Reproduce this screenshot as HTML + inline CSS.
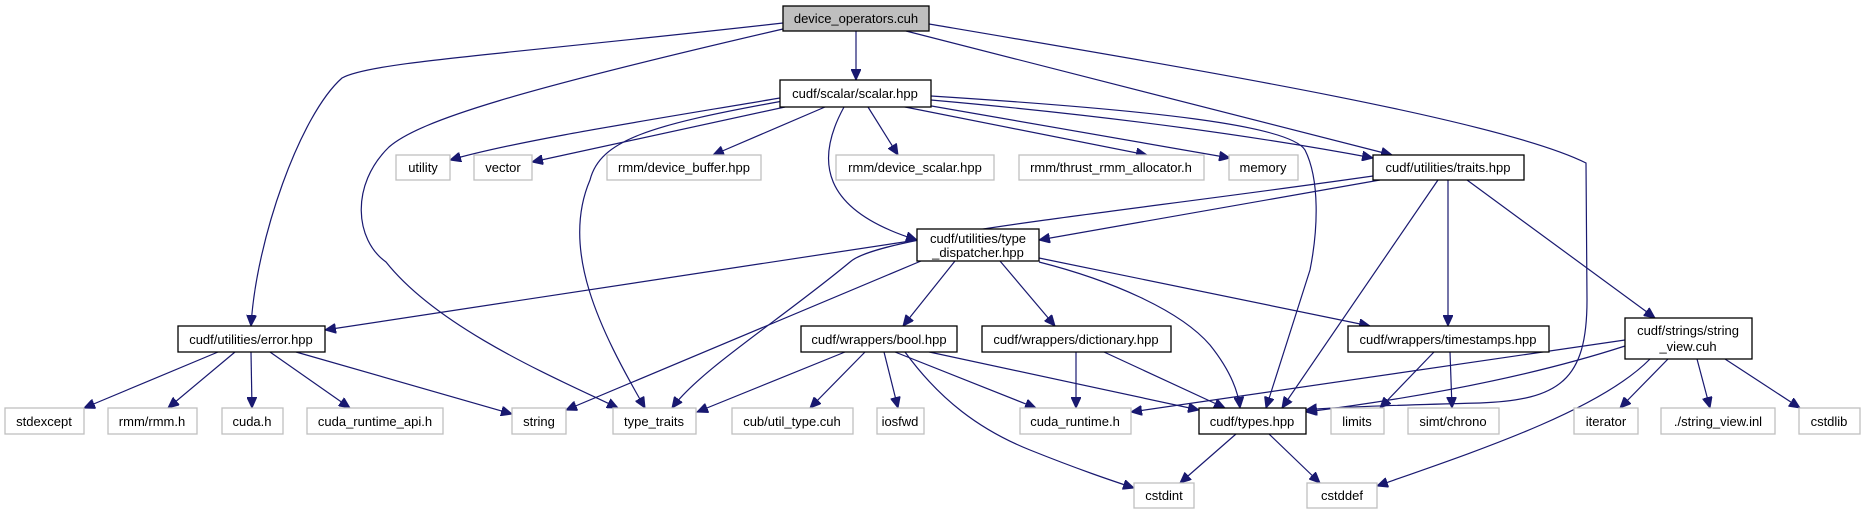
<!DOCTYPE html>
<html><head><meta charset="utf-8"><style>
html,body{margin:0;padding:0;background:#fff;}
svg{display:block;}
text{font-family:"Liberation Sans",sans-serif;font-size:13px;fill:#000;}
</style></head><body>
<svg width="1864" height="515" viewBox="0 0 1864 515" xmlns="http://www.w3.org/2000/svg">
<defs>
<marker id="a" markerUnits="userSpaceOnUse" markerWidth="12" markerHeight="10" refX="11" refY="5" orient="auto">
<path d="M0,0 L11,5 L0,10 Z" fill="#191970" stroke="#191970"/>
</marker>
</defs>
<g fill="none" stroke="#191970" stroke-width="1.2" marker-end="url(#a)">
<path d="M856,31 L856,80"/>
<path d="M783,23 C500,55 370,62 342,78 C300,115 256,240 251,326"/>
<path d="M783,29 C520,90 420,120 389,147 C350,185 355,240 386,262 C440,330 560,380 618,408"/>
<path d="M906,31 L1392,155"/>
<path d="M929,24 C1200,70 1500,120 1586,163 L1587,300 C1587,380 1560,400 1480,403 C1400,405 1330,407 1306,410"/>
<path d="M780,98 C650,120 520,140 450,160"/>
<path d="M785,107 L532,162"/>
<path d="M825,107 L713,155"/>
<path d="M868,107 L898,155"/>
<path d="M900,106 L1147,155"/>
<path d="M920,104 L1230,158"/>
<path d="M931,100 C1100,115 1250,135 1373,158"/>
<path d="M931,96 C1150,110 1290,125 1305,150 C1320,180 1318,230 1310,270 L1266,408"/>
<path d="M844,107 C815,160 820,210 917,240"/>
<path d="M783,101 C650,125 600,140 590,180 C560,250 600,330 645,408"/>
<path d="M1380,180 L1039,240"/>
<path d="M1373,176 C1100,215 880,235 850,262 C780,320 700,370 672,408"/>
<path d="M1438,180 L1282,408"/>
<path d="M1448,180 L1448,326"/>
<path d="M1467,180 L1655,318"/>
<path d="M917,240 L325,330"/>
<path d="M921,261 L566,410"/>
<path d="M955,261 L903,326"/>
<path d="M1000,261 L1055,326"/>
<path d="M1039,258 L1370,326"/>
<path d="M1039,262 C1110,280 1180,310 1210,345 C1230,370 1238,390 1240,408"/>
<path d="M218,352 L84,408"/>
<path d="M235,352 L168,408"/>
<path d="M251,352 L252,408"/>
<path d="M270,352 L350,408"/>
<path d="M296,352 L512,414"/>
<path d="M845,352 L697,412"/>
<path d="M865,352 L810,408"/>
<path d="M884,352 L898,408"/>
<path d="M895,352 L1036,408"/>
<path d="M920,350 L1199,410"/>
<path d="M905,352 C940,400 980,430 1030,450 C1080,470 1110,480 1134,488"/>
<path d="M1076,352 L1076,408"/>
<path d="M1104,352 L1225,408"/>
<path d="M1434,352 L1380,408"/>
<path d="M1450,352 L1452,408"/>
<path d="M1625,340 L1131,412"/>
<path d="M1625,346 C1520,380 1400,400 1306,412"/>
<path d="M1650,359 C1600,410 1480,450 1377,486"/>
<path d="M1668,359 L1620,408"/>
<path d="M1697,359 L1710,408"/>
<path d="M1725,359 L1800,408"/>
<path d="M1236,434 L1180,483"/>
<path d="M1269,434 L1320,483"/>
</g>
<g stroke-width="1.3">
<rect x="783" y="6" width="146" height="25" fill="#bfbfbf" stroke="#000"/>
<rect x="780" y="80" width="151" height="27" fill="#fff" stroke="#000"/>
<rect x="1373" y="155" width="151" height="25" fill="#fff" stroke="#000"/>
<rect x="917" y="229" width="122" height="32" fill="#fff" stroke="#000"/>
<rect x="178" y="326" width="147" height="26" fill="#fff" stroke="#000"/>
<rect x="801" y="326" width="156" height="26" fill="#fff" stroke="#000"/>
<rect x="982" y="326" width="189" height="26" fill="#fff" stroke="#000"/>
<rect x="1348" y="326" width="201" height="26" fill="#fff" stroke="#000"/>
<rect x="1625" y="318" width="127" height="41" fill="#fff" stroke="#000"/>
<rect x="1199" y="408" width="107" height="26" fill="#fff" stroke="#000"/>
</g>
<g fill="#fff" stroke="#bfbfbf" stroke-width="1.3">
<rect x="396" y="155" width="54" height="25"/>
<rect x="474" y="155" width="58" height="25"/>
<rect x="607" y="155" width="154" height="25"/>
<rect x="836" y="155" width="158" height="25"/>
<rect x="1019" y="155" width="185" height="25"/>
<rect x="1229" y="155" width="69" height="25"/>
<rect x="5" y="408" width="79" height="26"/>
<rect x="108" y="408" width="89" height="26"/>
<rect x="222" y="408" width="61" height="26"/>
<rect x="307" y="408" width="136" height="26"/>
<rect x="512" y="408" width="54" height="26"/>
<rect x="613" y="408" width="83" height="26"/>
<rect x="732" y="408" width="121" height="26"/>
<rect x="877" y="408" width="47" height="26"/>
<rect x="1020" y="408" width="111" height="26"/>
<rect x="1331" y="408" width="53" height="26"/>
<rect x="1408" y="408" width="91" height="26"/>
<rect x="1574" y="408" width="64" height="26"/>
<rect x="1661" y="408" width="114" height="26"/>
<rect x="1799" y="408" width="61" height="26"/>
<rect x="1134" y="483" width="60" height="25"/>
<rect x="1307" y="483" width="70" height="25"/>
</g>
<g text-anchor="middle">
<text x="856" y="23">device_operators.cuh</text>
<text x="855" y="98">cudf/scalar/scalar.hpp</text>
<text x="1448" y="172">cudf/utilities/traits.hpp</text>
<text x="978" y="243">cudf/utilities/type</text>
<text x="978" y="257">_dispatcher.hpp</text>
<text x="251" y="344">cudf/utilities/error.hpp</text>
<text x="879" y="344">cudf/wrappers/bool.hpp</text>
<text x="1076" y="344">cudf/wrappers/dictionary.hpp</text>
<text x="1448" y="344">cudf/wrappers/timestamps.hpp</text>
<text x="1688" y="335">cudf/strings/string</text>
<text x="1688" y="351">_view.cuh</text>
<text x="1252" y="426">cudf/types.hpp</text>
<text x="423" y="172">utility</text>
<text x="503" y="172">vector</text>
<text x="684" y="172">rmm/device_buffer.hpp</text>
<text x="915" y="172">rmm/device_scalar.hpp</text>
<text x="1111" y="172">rmm/thrust_rmm_allocator.h</text>
<text x="1263" y="172">memory</text>
<text x="44" y="426">stdexcept</text>
<text x="152" y="426">rmm/rmm.h</text>
<text x="252" y="426">cuda.h</text>
<text x="375" y="426">cuda_runtime_api.h</text>
<text x="539" y="426">string</text>
<text x="654" y="426">type_traits</text>
<text x="792" y="426">cub/util_type.cuh</text>
<text x="900" y="426">iosfwd</text>
<text x="1075" y="426">cuda_runtime.h</text>
<text x="1357" y="426">limits</text>
<text x="1453" y="426">simt/chrono</text>
<text x="1606" y="426">iterator</text>
<text x="1718" y="426">./string_view.inl</text>
<text x="1829" y="426">cstdlib</text>
<text x="1164" y="500">cstdint</text>
<text x="1342" y="500">cstddef</text>
</g>
</svg>
</body></html>
